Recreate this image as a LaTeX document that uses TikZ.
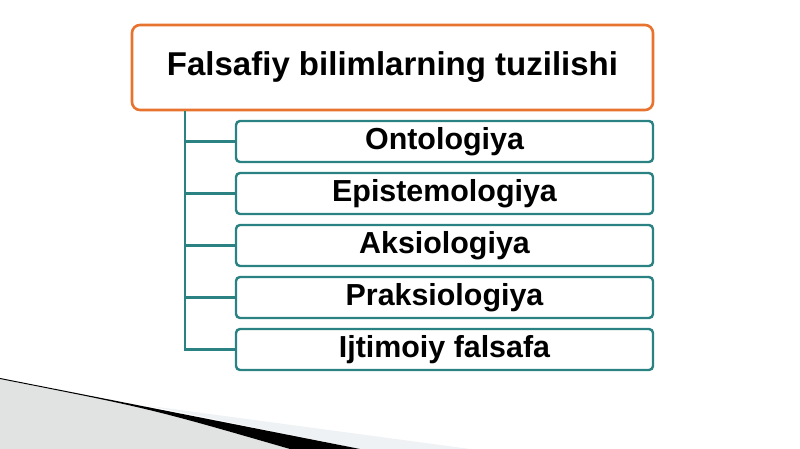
\documentclass[tikz,border=0pt]{standalone}
\usepackage{fontspec}
\setmainfont{Liberation Sans}
\begin{document}
\begin{tikzpicture}[x=1pt,y=-1pt,
  titlebox/.style={draw=orangeB, line width=2.6pt, rounded corners=8pt, fill=white,
    minimum width=521pt, minimum height=85pt, inner sep=0pt,
    font=\fontsize{33}{36}\selectfont\bfseries},
  itembox/.style={draw=tealB, line width=2.4pt, rounded corners=4pt, fill=white,
    minimum width=417pt, minimum height=41pt, inner sep=0pt,
    font=\fontsize{30.4}{34}\selectfont\bfseries},
  conn/.style={draw=tealB, line width=2.4pt}]
\definecolor{orangeB}{HTML}{E8732E}
\definecolor{tealB}{HTML}{2A8283}
\definecolor{grayA}{HTML}{E1E3E3}
\definecolor{paleA}{HTML}{EEF2F4}
\useasboundingbox (0,0) rectangle (800,449);
\fill[white] (0,0) rectangle (800,449);
% bottom-left decoration
\fill[paleA] (150,406) -- (470,449) -- (360,449) -- cycle;
\fill[grayA] (0,379) .. controls (150,408.5) .. (290,449) -- (0,449) -- cycle;
\fill[black] (0,378) -- (360,449) -- (290,449) .. controls (150,408.5) .. (0,379) -- cycle;
% nodes
\node[titlebox] (title) at (392.5,67.5) {Falsafiy bilimlarning tuzilishi};
\node[itembox] (c1) at (444.5,141.5) {Ontologiya};
\node[itembox] (c2) at (444.5,193.5) {Epistemologiya};
\node[itembox] (c3) at (444.5,245.5) {Aksiologiya};
\node[itembox] (c4) at (444.5,297.5) {Praksiologiya};
\node[itembox] (c5) at (444.5,349.5) {Ijtimoiy falsafa};
% connectors
\coordinate (sp) at (185,111);
\draw[conn] (sp) |- (c5.west);
\foreach \c in {c1,c2,c3,c4}{
  \draw[conn] (sp |- \c.west) -- (\c.west);
}
\end{tikzpicture}
\end{document}
